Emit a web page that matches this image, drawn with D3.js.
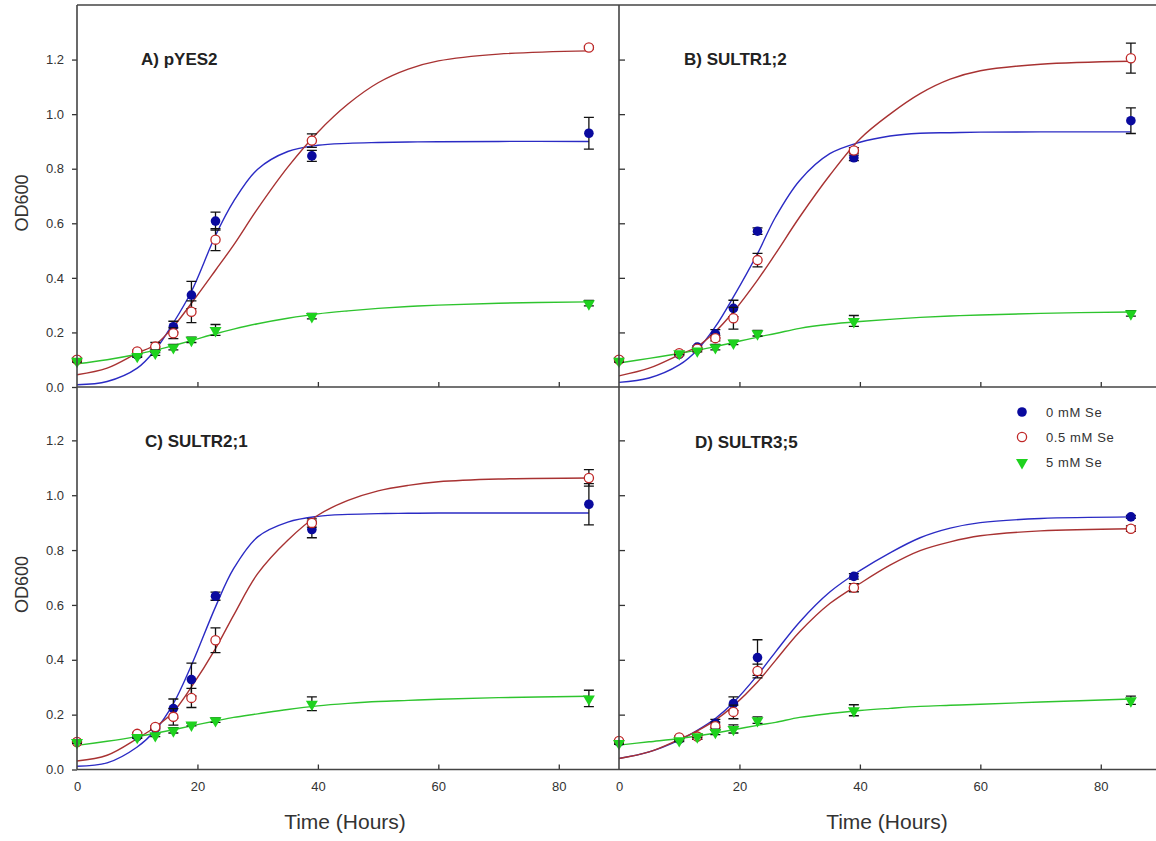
<!DOCTYPE html>
<html lang="en">
<head>
    <meta charset="utf-8">
    <title>Yeast growth curves with selenate</title>
    <script src="https://d3js.org/d3.v7.min.js"></script>
    <style>
        body { margin: 0; background: #fff; }
        svg { display: block; font-family: "Liberation Sans", Arial, sans-serif; }
        .tick text { fill: #333; font-size: 13px; }
        .tick line { stroke: #333; stroke-width: 1.3; }
        .frame { stroke: #444; stroke-width: 1.6; fill: none; }
        .panel-title { font-size: 17px; font-weight: bold; fill: #222; }
        .axis-title { fill: #333; }
        .legend text { font-size: 13px; letter-spacing: 0.6px; fill: #333; }
    </style>
</head>
<body>
<script>
    // sampling times of the measurements (hours)
    var times = [0, 10, 13, 16, 19, 23, 39, 85];

    // measured OD600 (mean) and error bar half-width, per panel
    var a_blue = [0.10, 0.118, 0.136, 0.221, 0.337, 0.608, 0.847, 0.930];
    var a_blueErr = [0.005, 0.005, 0.01, 0.02, 0.05, 0.033, 0.02, 0.058];
    var a_red = [0.10, 0.13, 0.148, 0.197, 0.276, 0.540, 0.903, 1.244];
    var a_redErr = [0.005, 0.005, 0.015, 0.02, 0.04, 0.04, 0.025, 0.005];
    var a_green = [0.096, 0.114, 0.126, 0.146, 0.173, 0.209, 0.26, 0.307];
    var a_greenErr = [0.005, 0.005, 0.01, 0.01, 0.01, 0.02, 0.01, 0.01];

    var b_blue = [0.10, 0.12, 0.146, 0.195, 0.288, 0.571, 0.84, 0.976];
    var b_blueErr = [0.005, 0.005, 0.005, 0.015, 0.03, 0.012, 0.01, 0.047];
    var b_red = [0.10, 0.124, 0.14, 0.179, 0.252, 0.465, 0.867, 1.205];
    var b_redErr = [0.005, 0.005, 0.005, 0.01, 0.04, 0.025, 0.01, 0.055];
    var b_green = [0.096, 0.124, 0.134, 0.146, 0.163, 0.197, 0.242, 0.27];
    var b_greenErr = [0.005, 0.005, 0.005, 0.01, 0.008, 0.01, 0.02, 0.01];

    var c_blue = [0.10, 0.12, 0.15, 0.222, 0.328, 0.632, 0.875, 0.967];
    var c_blueErr = [0.005, 0.005, 0.005, 0.035, 0.06, 0.015, 0.03, 0.075];
    var c_red = [0.10, 0.13, 0.155, 0.192, 0.261, 0.471, 0.899, 1.063];
    var c_redErr = [0.005, 0.005, 0.005, 0.03, 0.035, 0.045, 0.015, 0.03];
    var c_green = [0.10, 0.119, 0.125, 0.143, 0.164, 0.18, 0.24, 0.259];
    var c_greenErr = [0.005, 0.005, 0.005, 0.01, 0.005, 0.008, 0.025, 0.03];

    var d_blue = [0.10, 0.11, 0.12, 0.168, 0.24, 0.408, 0.704, 0.921];
    var d_blueErr = [0.005, 0.005, 0.01, 0.015, 0.025, 0.065, 0.01, 0.005];
    var d_red = [0.104, 0.117, 0.12, 0.158, 0.21, 0.359, 0.663, 0.878];
    var d_redErr = [0.005, 0.005, 0.01, 0.015, 0.025, 0.025, 0.015, 0.01];
    var d_green = [0.097, 0.107, 0.121, 0.137, 0.148, 0.18, 0.216, 0.2525];
    var d_greenErr = [0.005, 0.005, 0.005, 0.01, 0.015, 0.012, 0.02, 0.015];

    // fitted growth curves at these times
    var fitTimes = [0, 5, 10, 13, 16, 19, 23, 26, 30, 35, 40, 45, 50, 55, 60, 70, 85];
    var a_blueFit = [0.008, 0.02, 0.069, 0.136, 0.235, 0.35, 0.555, 0.68, 0.798, 0.863, 0.886, 0.893, 0.896, 0.898, 0.899, 0.90, 0.90];
    var a_redFit = [0.045, 0.069, 0.124, 0.155, 0.221, 0.307, 0.428, 0.52, 0.654, 0.806, 0.934, 1.037, 1.115, 1.165, 1.195, 1.22, 1.232];
    var a_greenFit = [0.085, 0.10, 0.12, 0.135, 0.152, 0.17, 0.195, 0.212, 0.232, 0.252, 0.268, 0.279, 0.288, 0.295, 0.30, 0.307, 0.312];
    var b_blueFit = [0.017, 0.033, 0.081, 0.136, 0.221, 0.33, 0.489, 0.623, 0.757, 0.855, 0.897, 0.92, 0.93, 0.932, 0.934, 0.935, 0.935];
    var b_redFit = [0.041, 0.069, 0.118, 0.148, 0.203, 0.276, 0.392, 0.489, 0.623, 0.776, 0.909, 1.0, 1.075, 1.128, 1.159, 1.183, 1.194];
    var b_greenFit = [0.088, 0.105, 0.123, 0.135, 0.148, 0.163, 0.183, 0.196, 0.215, 0.23, 0.24, 0.248, 0.255, 0.26, 0.264, 0.27, 0.275];
    var c_blueFit = [0.012, 0.024, 0.082, 0.143, 0.24, 0.38, 0.593, 0.732, 0.848, 0.902, 0.923, 0.93, 0.933, 0.934, 0.935, 0.935, 0.935];
    var c_redFit = [0.031, 0.052, 0.113, 0.155, 0.21, 0.301, 0.441, 0.562, 0.714, 0.836, 0.927, 0.981, 1.016, 1.036, 1.049, 1.059, 1.063];
    var c_greenFit = [0.088, 0.103, 0.12, 0.132, 0.145, 0.159, 0.177, 0.19, 0.203, 0.219, 0.232, 0.241, 0.248, 0.252, 0.256, 0.262, 0.267];
    var d_blueFit = [0.04, 0.064, 0.107, 0.143, 0.186, 0.244, 0.344, 0.429, 0.538, 0.647, 0.725, 0.79, 0.845, 0.88, 0.90, 0.915, 0.921];
    var d_redFit = [0.04, 0.064, 0.11, 0.141, 0.18, 0.232, 0.319, 0.398, 0.502, 0.605, 0.678, 0.745, 0.798, 0.83, 0.852, 0.87, 0.878];
    var d_greenFit = [0.089, 0.101, 0.113, 0.122, 0.133, 0.145, 0.161, 0.172, 0.19, 0.204, 0.215, 0.223, 0.23, 0.234, 0.238, 0.246, 0.257];

    var seriesNames = ["0 mM Se", "0.5 mM Se", "5 mM Se"];
    var panelTitles = ["A) pYES2", "B) SULTR1;2", "C) SULTR2;1", "D) SULTR3;5"];
    var xTicks = [0, 20, 40, 60, 80];
    var yTicks = [0.0, 0.2, 0.4, 0.6, 0.8, 1.0, 1.2];

    var width = 1156, height = 841;

    // colours: marker fill/stroke and fitted line
    var styles = [
        { marker: "#0a0a9e", line: "#2b2bc4", shape: "circle", open: false },
        { marker: "#c02828", line: "#a83232", shape: "circle", open: true },
        { marker: "#1ed21e", line: "#2ec42e", shape: "triangle", open: false }
    ];

    var panels = [
        { title: panelTitles[0], left: 77, right: 619, top: 5, bottom: 387, titleX: 64, titleY: 60,
          series: [[a_blue, a_blueErr, a_blueFit], [a_red, a_redErr, a_redFit], [a_green, a_greenErr, a_greenFit]],
          yLabels: true, xLabels: false },
        { title: panelTitles[1], left: 619, right: 1161, top: 5, bottom: 387, titleX: 65, titleY: 60,
          series: [[b_blue, b_blueErr, b_blueFit], [b_red, b_redErr, b_redFit], [b_green, b_greenErr, b_greenFit]],
          yLabels: false, xLabels: false },
        { title: panelTitles[2], left: 77, right: 619, top: 385.5, bottom: 769.5, titleX: 68, titleY: 61,
          series: [[c_blue, c_blueErr, c_blueFit], [c_red, c_redErr, c_redFit], [c_green, c_greenErr, c_greenFit]],
          yLabels: true, xLabels: true },
        { title: panelTitles[3], left: 619, right: 1161, top: 385.5, bottom: 769.5, titleX: 76, titleY: 62,
          series: [[d_blue, d_blueErr, d_blueFit], [d_red, d_redErr, d_redFit], [d_green, d_greenErr, d_greenFit]],
          yLabels: false, xLabels: true }
    ];

    var svg = d3.select("body").append("svg")
        .attr("width", width)
        .attr("height", height);

    var triangle = d3.symbol().type(d3.symbolTriangle).size(62);

    function drawMarker(g, style, cx, cy) {
        if (style.shape === "triangle") {
            g.append("path")
                .attr("d", triangle)
                .attr("transform", "translate(" + cx + "," + (cy + 0.5) + ") rotate(180)")
                .attr("fill", style.marker);
        } else {
            g.append("circle")
                .attr("cx", cx).attr("cy", cy)
                .attr("r", style.open ? 4.6 : 4.8)
                .attr("fill", style.open ? "#fff" : style.marker)
                .attr("stroke", style.marker)
                .attr("stroke-width", style.open ? 1.3 : 0);
        }
    }

    panels.forEach(function(p) {
        var x = d3.scaleLinear().domain([0, 90]).range([p.left, p.right]);
        var y = d3.scaleLinear().domain([0, 1.4]).range([p.bottom, p.top]);
        var g = svg.append("g");

        // fitted curves
        p.series.forEach(function(s, i) {
            var line = d3.line()
                .x(function(d, j) { return x(fitTimes[j]); })
                .y(function(d) { return y(d); })
                .curve(d3.curveCatmullRom.alpha(0.5));
            g.append("path")
                .datum(s[2])
                .attr("d", line)
                .attr("fill", "none")
                .attr("stroke", styles[i].line)
                .attr("stroke-width", 1.4);
        });

        // error bars then markers, series by series
        p.series.forEach(function(s, i) {
            var sg = g.append("g");
            s[0].forEach(function(v, j) {
                var cx = x(times[j]);
                var lo = y(v - s[1][j]), hi = y(v + s[1][j]);
                sg.append("path")
                    .attr("d", "M" + (cx - 5) + "," + hi + "H" + (cx + 5) +
                               "M" + cx + "," + hi + "V" + lo +
                               "M" + (cx - 5) + "," + lo + "H" + (cx + 5))
                    .attr("stroke", "#111")
                    .attr("stroke-width", 1.3)
                    .attr("fill", "none");
            });
            s[0].forEach(function(v, j) {
                drawMarker(sg, styles[i], x(times[j]), y(v));
            });
        });

        // y axis ticks: outward with labels on the left panels, inward on the right ones
        var yAxis = p.yLabels
            ? d3.axisLeft(y).tickValues(yTicks).tickSize(5).tickPadding(8).tickFormat(d3.format(".1f"))
            : d3.axisLeft(y).tickValues(yTicks.slice(1)).tickSize(-6).tickFormat("");
        svg.append("g")
            .attr("transform", "translate(" + p.left + ",0)")
            .call(yAxis)
            .call(function(ax) { ax.select(".domain").remove(); });

        // x axis ticks point up into the plot
        var xAxis = d3.axisBottom(x).tickValues(p.xLabels ? xTicks : xTicks.slice(1))
            .tickSize(-5).tickPadding(12)
            .tickFormat(p.xLabels ? d3.format("d") : "");
        svg.append("g")
            .attr("transform", "translate(0," + p.bottom + ")")
            .call(xAxis)
            .call(function(ax) {
                ax.select(".domain").remove();
                ax.selectAll(".tick").filter(function(d) { return d === 0; }).select("line").remove();
            });

        svg.append("text")
            .attr("class", "panel-title")
            .attr("x", p.left + p.titleX)
            .attr("y", p.top + p.titleY)
            .text(p.title);

        if (p.xLabels) {
            svg.append("text")
                .attr("class", "axis-title")
                .attr("x", p.left + 268)
                .attr("y", 829)
                .attr("text-anchor", "middle")
                .style("font-size", "21px")
                .text("Time (Hours)");
        }
        if (p.yLabels) {
            svg.append("text")
                .attr("class", "axis-title")
                .attr("transform", "translate(28," + ((p.top + p.bottom) / 2 + 7) + ") rotate(-90)")
                .attr("text-anchor", "middle")
                .style("font-size", "18px")
                .text("OD600");
        }
    });

    // frame lines shared by the panels
    var frame = svg.append("g").attr("class", "frame");
    frame.append("line").attr("x1", 77).attr("x2", width).attr("y1", 5).attr("y2", 5);
    frame.append("line").attr("x1", 77).attr("x2", width).attr("y1", 387).attr("y2", 387);
    frame.append("line").attr("x1", 77).attr("x2", width).attr("y1", 769.5).attr("y2", 769.5);
    frame.append("line").attr("x1", 77).attr("x2", 77).attr("y1", 5).attr("y2", 769.5);
    frame.append("line").attr("x1", 619).attr("x2", 619).attr("y1", 5).attr("y2", 769.5);

    // legend inside panel D
    var legend = svg.append("g").attr("class", "legend");
    seriesNames.forEach(function(name, i) {
        var ly = 412 + i * 25;
        drawMarker(legend, styles[i], 1022, ly);
        legend.append("text")
            .attr("x", 1046)
            .attr("y", ly + 5)
            .text(name);
    });
</script>
</body>
</html>
